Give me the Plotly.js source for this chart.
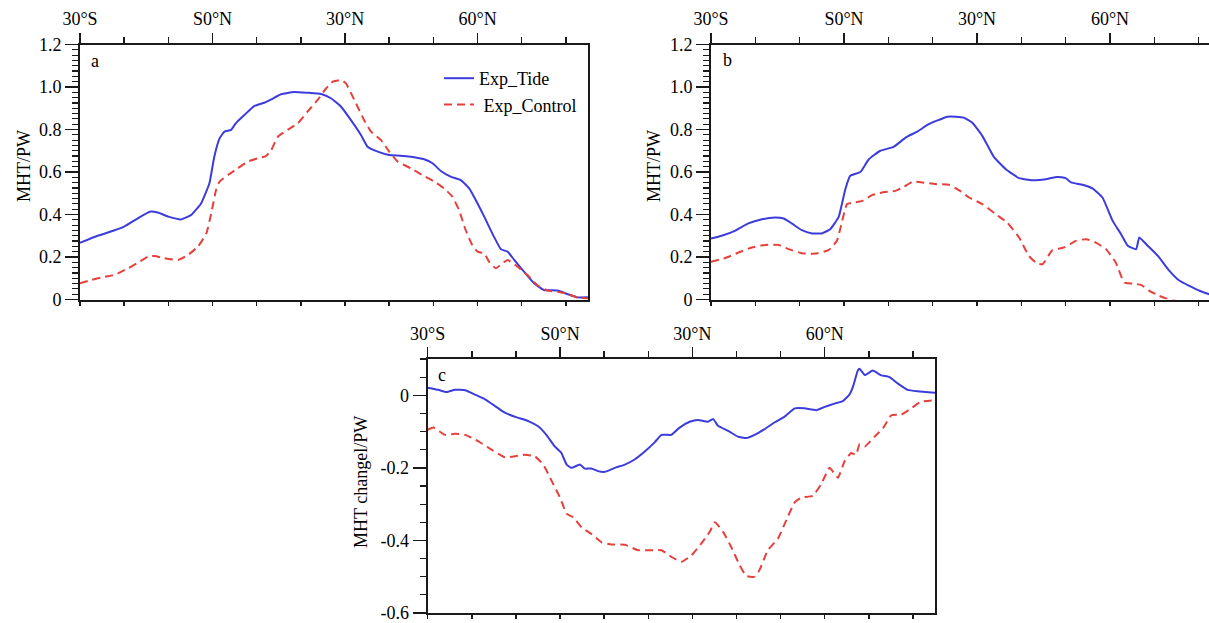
<!DOCTYPE html>
<html>
<head>
<meta charset="utf-8">
<script src="https://cdn.plot.ly/plotly-3.0.1.min.js"></script>
<style>html,body{margin:0;padding:0;background:#fff;}#chart{width:1209px;height:623px;}</style>
</head>
<body>
<div id="chart"></div>
<script>
// ---------- Data ----------
// Panel a
const latTideA = [-30,-26,-23.7,-20,-16.9,-14.2,-12.4,-10,-7.1,-4.8,-2.6,-0.7,0.4,1.6,2.7,4.2,5.3,7.2,9.5,11.7,13.3,15.5,18.5,21.5,24.6,26.8,29.1,31.3,33.6,35.1,37.4,40,42.6,44.9,47.9,49.8,51.7,53.9,56.2,58.1,60,61.5,63.7,65.3,66.8,68.3,70.5,72.8,75,78.1,80.3,82.6,85];
const tideA    = [0.267,0.30,0.315,0.343,0.382,0.413,0.409,0.39,0.377,0.398,0.452,0.547,0.672,0.758,0.79,0.798,0.83,0.868,0.911,0.926,0.942,0.966,0.977,0.973,0.967,0.947,0.907,0.845,0.774,0.719,0.696,0.68,0.677,0.672,0.66,0.641,0.605,0.578,0.562,0.523,0.452,0.39,0.296,0.236,0.225,0.186,0.131,0.076,0.045,0.042,0.026,0.01,0.01];
const latCtrlA = [-30,-27.4,-24.4,-22.2,-19.1,-16.9,-14.6,-13.1,-10.9,-7.8,-5.6,-3.3,-1.4,-0.3,0.8,1.6,3.5,5.7,8.0,10.2,12.1,13.3,14.8,17.0,19.3,21.5,23.8,25.7,27.2,29.1,30.2,32.1,34.3,35.9,38.1,40,41.9,44.9,47.9,50.2,52.4,54.3,55.8,57.3,58.8,60,61.5,62.6,64.1,65.6,66.8,69.0,71.3,73.5,75.8,78.1,80.3,82.6,85];
const ctrlA    = [0.076,0.092,0.107,0.115,0.147,0.173,0.202,0.205,0.194,0.186,0.209,0.249,0.311,0.405,0.515,0.555,0.586,0.617,0.649,0.664,0.675,0.704,0.766,0.798,0.829,0.884,0.939,0.993,1.025,1.033,1.017,0.939,0.845,0.79,0.751,0.696,0.649,0.617,0.581,0.555,0.523,0.484,0.421,0.327,0.256,0.225,0.217,0.178,0.147,0.170,0.186,0.155,0.115,0.068,0.042,0.037,0.026,0.01,0.005];
// Panel b
const latTideB = [-30,-27.6,-24.6,-21.6,-18.5,-15.5,-13.6,-11.8,-9.5,-7.2,-5.0,-3.1,-1.2,0.3,1.4,3.7,5.6,8.2,11.2,13.9,16.5,19.1,21.4,23.3,25.2,27.0,28.9,31.2,33.8,36.5,39.5,42.5,45.5,48.1,50.0,51.2,53.8,56.1,58.3,60.6,62.5,64.0,65.9,66.6,68.5,70.8,73.4,75.7,77.9,80.2,82.4,84];
const tideB    = [0.287,0.30,0.323,0.358,0.378,0.386,0.381,0.358,0.326,0.311,0.311,0.331,0.389,0.519,0.582,0.60,0.66,0.70,0.718,0.762,0.79,0.825,0.845,0.86,0.86,0.856,0.833,0.77,0.671,0.613,0.571,0.561,0.566,0.577,0.571,0.551,0.54,0.522,0.48,0.37,0.307,0.253,0.237,0.292,0.253,0.205,0.135,0.088,0.064,0.041,0.025,0.02];
const latCtrlB = [-30,-26.8,-23.8,-20.8,-17.8,-14.8,-12.5,-9.5,-6.5,-3.5,-1.6,-0.5,0.7,2.2,4.1,6.3,8.6,11.6,13.5,15.4,17.6,20.6,23.7,25.9,28.2,31.2,34.2,36.8,39.5,41.7,43.6,44.8,47.0,49.7,52.3,54.6,56.8,59.1,61.3,63.2,65.1,67.0,68.9,71.1,73.4,76,80,84];
const ctrlB    = [0.177,0.195,0.221,0.245,0.257,0.257,0.237,0.218,0.216,0.232,0.276,0.362,0.449,0.456,0.464,0.491,0.504,0.511,0.53,0.554,0.551,0.543,0.54,0.515,0.48,0.449,0.402,0.362,0.292,0.205,0.169,0.166,0.232,0.245,0.276,0.284,0.268,0.237,0.174,0.08,0.075,0.069,0.041,0.017,0.0,-0.01,-0.02,-0.02];
// Panel c
const latTideC = [-30,-27.6,-25.7,-23.8,-21.5,-19.3,-17.0,-14.8,-12.5,-9.8,-7.2,-4.9,-3.1,-1.2,0.3,1.5,2.6,4.5,5.6,7.1,8.6,10.2,12.4,14.7,16.9,19.2,21.5,23.0,25.2,27.1,29.4,31.3,33.5,34.7,35.8,38.1,40.3,42.2,44.1,46.4,48.6,50.9,53.2,55.4,58.1,60.0,62.2,64.1,65.6,66.4,67.5,67.9,69.1,70.9,72.8,74.7,76.6,78.8,81.1,85];
const tideC    = [0.021,0.015,0.009,0.015,0.014,0.002,-0.011,-0.029,-0.048,-0.061,-0.071,-0.086,-0.109,-0.141,-0.159,-0.191,-0.20,-0.191,-0.202,-0.202,-0.209,-0.211,-0.20,-0.191,-0.177,-0.155,-0.129,-0.109,-0.109,-0.089,-0.073,-0.068,-0.073,-0.065,-0.084,-0.098,-0.114,-0.118,-0.109,-0.093,-0.075,-0.059,-0.036,-0.036,-0.041,-0.032,-0.023,-0.016,0.002,0.023,0.068,0.073,0.056,0.068,0.055,0.05,0.032,0.015,0.011,0.007];
const latCtrlC = [-30,-28.7,-26.1,-23.8,-21.5,-18.5,-15.5,-12.5,-10.2,-8.0,-5.7,-3.8,-1.9,0.0,1.5,3.0,4.9,7.1,9.4,11.7,14.7,17.7,20.7,23.0,25.2,27.5,29.8,32.0,33.9,35.1,37.0,38.8,40.7,42.2,44.1,45.2,47.1,49.4,50.9,53.2,54.7,57.3,59.2,61.1,63.0,64.5,66.0,67.1,67.9,69.1,71.3,73.2,75.1,77.4,79.6,81.8,85];
const ctrlC    = [-0.095,-0.089,-0.109,-0.106,-0.109,-0.127,-0.15,-0.171,-0.168,-0.164,-0.168,-0.191,-0.236,-0.282,-0.327,-0.336,-0.364,-0.382,-0.405,-0.411,-0.412,-0.427,-0.427,-0.427,-0.445,-0.459,-0.441,-0.409,-0.377,-0.35,-0.377,-0.418,-0.468,-0.498,-0.50,-0.482,-0.427,-0.395,-0.355,-0.295,-0.282,-0.277,-0.245,-0.20,-0.227,-0.182,-0.159,-0.164,-0.135,-0.141,-0.114,-0.091,-0.055,-0.053,-0.036,-0.018,-0.014];

// Tick labels
const lonTickVals = [-30, 0, 30, 60];
const lonTickText = ['30°S', 'S0°N', '30°N', '60°N'];
const mhtTickVals = [0, 0.2, 0.4, 0.6, 0.8, 1.0, 1.2];
const mhtTickText = ['0', '0.2', '0.4', '0.6', '0.8', '1.0', '1.2'];
const chgTickVals = [-0.6, -0.4, -0.2, 0];
const chgTickText = ['-0.6', '-0.4', '-0.2', '0'];
const seriesNames = ['Exp_Tide', '\u00a0Exp_Control'];

// ---------- Styling ----------
const W = 1209, H = 623;
const FONT = 'Liberation Serif, Times New Roman, serif';
const BLUE = '#3c3cdc', RED = '#e6403c';
const AX = '#1a1a1a';
const CSHIFT = 5; // panel c lifted slightly so its bottom tick label stays inside

function px(x){ return x / W; }
function py(y){ return 1 - y / H; }

function topAxis(domain, range){
  return {
    domain: domain, range: range, side: 'top',
    tickmode: 'array', tickvals: lonTickVals, ticktext: lonTickText,
    ticks: 'outside', ticklen: 10, tickwidth: 1.5, tickcolor: AX,
    minor: {tickmode: 'linear', tick0: -30, dtick: 10, ticks: 'outside', ticklen: 6, tickwidth: 1.5, tickcolor: AX, showgrid: false},
    showline: true, linewidth: 2, linecolor: AX,
    showgrid: false, zeroline: false, ticklabeloverflow: 'allow',
    tickfont: {family: FONT, size: 18, color: '#000'}
  };
}
function bottomAxis(over, anchor, range){
  return {
    overlaying: over, anchor: anchor, side: 'bottom', range: range,
    tickmode: 'linear', tick0: -30, dtick: 10,
    ticks: 'outside', ticklen: 4, tickwidth: 1.5, tickcolor: AX,
    showticklabels: false, showline: true, linewidth: 2, linecolor: AX,
    showgrid: false, zeroline: false
  };
}
function leftAxis(domain, range, vals, text, minorStep, mirror){
  return {
    domain: domain, range: range,
    tickmode: 'array', tickvals: vals, ticktext: text,
    ticks: 'outside', ticklen: 13, tickwidth: 1.5, tickcolor: AX,
    minor: {tickmode: 'linear', tick0: 0, dtick: minorStep, ticks: 'outside', ticklen: 6, tickwidth: 1.2, tickcolor: AX, showgrid: false},
    showline: true, linewidth: 2, linecolor: AX, mirror: mirror,
    showgrid: false, zeroline: false, ticklabeloverflow: 'allow',
    tickfont: {family: FONT, size: 18, color: '#000'}
  };
}

const rangeA = [-30, 85];
const rangeB = [-30, -30 + (W - 711) / (133 / 30)];
const rangeC = [-30, 85];

function tideTrace(x, y, xa, ya, show){
  return {x: x, y: y, xaxis: xa, yaxis: ya, type: 'scatter', mode: 'lines', name: seriesNames[0],
    line: {color: BLUE, width: 2, shape: 'spline', smoothing: 0.4}, showlegend: show, legendrank: 1};
}
function ctrlTrace(x, y, xa, ya, show){
  return {x: x, y: y, xaxis: xa, yaxis: ya, type: 'scatter', mode: 'lines', name: seriesNames[1],
    line: {color: RED, width: 2, dash: '8px,5px', shape: 'spline', smoothing: 0.4}, showlegend: show, legendrank: 2};
}

const data = [
  tideTrace(latTideA, tideA, 'x', 'y', true),
  ctrlTrace(latCtrlA, ctrlA, 'x', 'y', true),
  tideTrace(latTideB, tideB, 'x2', 'y2', false),
  ctrlTrace(latCtrlB, ctrlB, 'x2', 'y2', false),
  tideTrace(latTideC, tideC, 'x3', 'y3', false),
  ctrlTrace(latCtrlC, ctrlC, 'x3', 'y3', false),
  {x: [], y: [], xaxis: 'x4', yaxis: 'y', type: 'scatter', mode: 'lines', showlegend: false},
  {x: [], y: [], xaxis: 'x5', yaxis: 'y2', type: 'scatter', mode: 'lines', showlegend: false},
  {x: [], y: [], xaxis: 'x6', yaxis: 'y3', type: 'scatter', mode: 'lines', showlegend: false}
];

const xa = topAxis([px(80), px(588)], rangeA); xa.anchor = 'y';
const xb = topAxis([px(711), 1], rangeB); xb.anchor = 'y2';
const xc = topAxis([px(427.7), px(935)], rangeC); xc.anchor = 'y3';

const ya = leftAxis([py(299.5), py(44.5)], [0, 1.2], mhtTickVals, mhtTickText, 0.025, true); ya.anchor = 'x';
const yb = leftAxis([py(299.5), py(44.5)], [0, 1.2], mhtTickVals, mhtTickText, 0.025, false); yb.anchor = 'x2';
const yc = leftAxis([py(618 - CSHIFT), py(364 - CSHIFT)], [-0.6, 0.1], chgTickVals, chgTickText, 0.05, true); yc.anchor = 'x3';

function label(text, x, y, angle){
  return {text: text, xref: 'paper', yref: 'paper', x: px(x), y: py(y), showarrow: false,
    xanchor: 'center', yanchor: 'middle', textangle: angle || 0,
    font: {family: FONT, size: 18, color: '#000'}};
}

const layout = {
  width: W, height: H,
  margin: {l: 0, r: 0, t: 0, b: 0, pad: 0},
  paper_bgcolor: '#fff', plot_bgcolor: '#fff',
  showlegend: true,
  legend: {x: px(439), y: py(60), xanchor: 'left', yanchor: 'top',
    bgcolor: 'rgba(0,0,0,0)', borderwidth: 0,
    font: {family: FONT, size: 18, color: '#000'}, tracegroupgap: 0},
  xaxis: xa, xaxis2: xb, xaxis3: xc,
  xaxis4: bottomAxis('x', 'y', rangeA),
  xaxis5: bottomAxis('x2', 'y2', rangeB),
  xaxis6: bottomAxis('x3', 'y3', rangeC),
  yaxis: ya, yaxis2: yb, yaxis3: yc,
  annotations: [
    label('a', 95, 61),
    label('b', 727, 60),
    label('c', 442, 380 - CSHIFT),
    label('MHT/PW', 24, 166, -90),
    label('MHT/PW', 654, 166, -90),
    label('MHT changel/PW', 361, 487 - CSHIFT, -90)
  ]
};

Plotly.newPlot('chart', data, layout, {displayModeBar: false, staticPlot: true});
</script>
</body>
</html>
